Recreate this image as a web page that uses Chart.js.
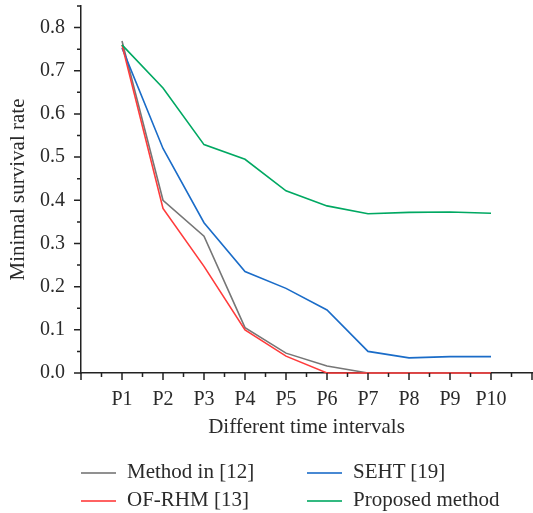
<!DOCTYPE html>
<html>
<head>
<meta charset="utf-8">
<script src="https://cdn.jsdelivr.net/npm/chart.js@4.4.1/dist/chart.umd.min.js"></script>
<style>
  html, body { margin: 0; padding: 0; background: #fff; }
  #wrap { position: relative; width: 533px; height: 513px; }
  .leg { position: absolute; font-family: 'Liberation Serif', serif; font-size: 21px; color: #2a2a2a; white-space: nowrap; }
  .leg i { position: absolute; left: 0; top: 0; width: 35px; height: 0; border-top: 2px solid; }
  .leg span { position: absolute; left: 46px; top: 0; transform: translateY(-52%); }
</style>
</head>
<body>
<div id="wrap">
  <canvas id="grafico" width="533" height="513"></canvas>
</div>
<script>
const periodos = [1, 2, 3, 4, 5, 6, 7, 8, 9, 10];
const metodo12 = [0.769, 0.400, 0.317, 0.105, 0.046, 0.016, 0, 0, 0, 0];
const ofrhm13 = [0.760, 0.381, 0.247, 0.100, 0.039, 0, 0, 0, 0, 0];
const seht19 = [0.753, 0.520, 0.348, 0.235, 0.196, 0.146, 0.050, 0.035, 0.038, 0.038];
const propuesto = [0.760, 0.660, 0.529, 0.495, 0.422, 0.387, 0.369, 0.372, 0.373, 0.370];

const nombres = ['Method in [12]', 'OF-RHM [13]', 'SEHT [19]', 'Proposed method'];
const colores = ['#767676', '#ff3b3b', '#1a6cc8', '#00a862'];
const series = [metodo12, ofrhm13, seht19, propuesto];

const FUENTE = "'Liberation Serif', serif";

// ticks hacia afuera, mayores y menores
const ticksAfuera = {
  id: 'ticksAfuera',
  afterDraw(chart) {
    const ctx = chart.ctx;
    const x = chart.scales.x, y = chart.scales.y;
    ctx.save();
    ctx.strokeStyle = '#222';
    ctx.lineWidth = 1.5;
    ctx.beginPath();
    for (let v = 0; v <= 11.001; v += 0.5) {
      const px = x.getPixelForValue(v);
      const largo = Math.abs(v - Math.round(v)) < 0.01 ? 7 : 4;
      ctx.moveTo(px, y.bottom);
      ctx.lineTo(px, y.bottom + largo);
    }
    for (let i = 0; i <= 17; i++) {
      const v = i * 0.05;
      const py = y.getPixelForValue(v);
      const largo = i % 2 === 0 ? 7 : 4;
      ctx.moveTo(x.left, py);
      ctx.lineTo(x.left - largo, py);
    }
    ctx.stroke();
    ctx.restore();
  }
};

const datasets = series.map((s, i) => ({
  label: nombres[i],
  data: periodos.map((p, j) => ({ x: p, y: s[j] })),
  borderColor: colores[i],
  backgroundColor: colores[i],
  borderWidth: 1.6,
  pointRadius: 0,
  tension: 0,
  fill: false,
  clip: false,
  order: [3, 1, 2, 0][i]
}));

new Chart(document.getElementById('grafico').getContext('2d'), {
  type: 'line',
  data: { datasets: datasets },
  plugins: [ticksAfuera],
  options: {
    responsive: false,
    animation: false,
    layout: { padding: { top: 6, right: 1, bottom: 0, left: 0 } },
    plugins: {
      legend: { display: false },
      tooltip: { enabled: false }
    },
    scales: {
      x: {
        type: 'linear',
        min: 0,
        max: 11,
        afterFit: s => { s.height = 140; s.paddingLeft = 0; s.paddingRight = 0; },
        grid: { display: false, drawTicks: false },
        border: { display: true, color: '#222', width: 1.5 },
        ticks: {
          stepSize: 1,
          autoSkip: false,
          maxRotation: 0,
          padding: 15,
          color: '#2a2a2a',
          font: { family: FUENTE, size: 20 },
          callback: v => (v >= 1 && v <= 10) ? 'P' + v : ''
        },
        title: {
          display: true,
          text: 'Different time intervals',
          color: '#2a2a2a',
          font: { family: FUENTE, size: 21 },
          padding: { top: 0, bottom: 73 }
        }
      },
      y: {
        min: 0,
        max: 0.85,
        afterFit: s => { s.width = 81; s.paddingTop = 0; s.paddingBottom = 0; },
        grid: { display: false, drawTicks: false },
        border: { display: true, color: '#222', width: 1.5 },
        ticks: {
          stepSize: 0.05,
          autoSkip: false,
          padding: 16,
          color: '#2a2a2a',
          font: { family: FUENTE, size: 20 },
          callback: v => {
            const d = Math.round(v * 20);
            return (d % 2 === 0 && d <= 16) ? (d / 20).toFixed(1) : '';
          }
        },
        title: {
          display: true,
          text: 'Minimal survival rate',
          color: '#2a2a2a',
          font: { family: FUENTE, size: 21 },
          padding: { top: 6, bottom: 0 }
        }
      }
    }
  }
});

// leyenda en dos columnas
const wrap = document.getElementById('wrap');
const posiciones = [[81, 472], [81, 500], [307, 472], [307, 500]];
nombres.forEach((n, i) => {
  const d = document.createElement('div');
  d.className = 'leg';
  d.style.left = posiciones[i][0] + 'px';
  d.style.top = posiciones[i][1] + 'px';
  d.innerHTML = `<i style="border-color:${colores[i]};opacity:0.8"></i><span>${n}</span>`;
  wrap.appendChild(d);
});
</script>
</body>
</html>
